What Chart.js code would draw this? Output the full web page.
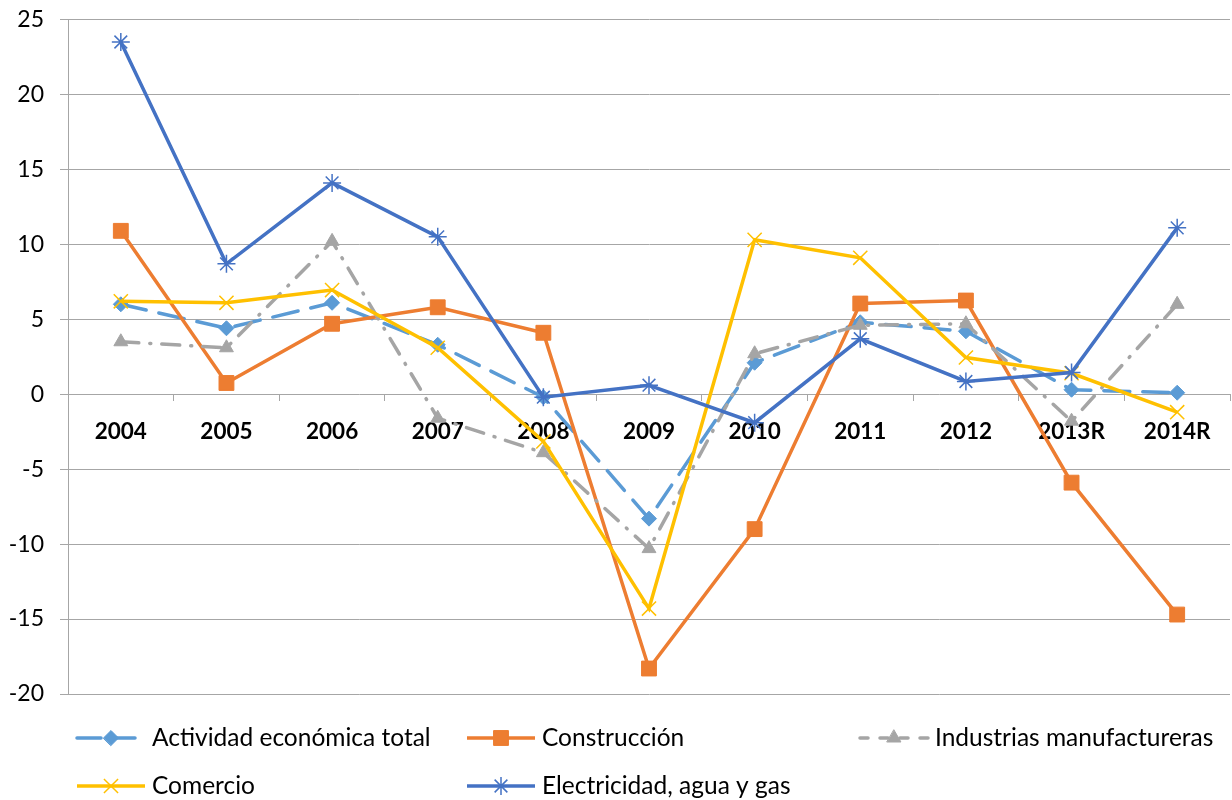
<!DOCTYPE html>
<html>
<head>
<meta charset="utf-8">
<script src="https://cdn.jsdelivr.net/npm/chart.js@4.4.0/dist/chart.umd.min.js"></script>
<style>
  html, body { margin: 0; padding: 0; background: #fff; }
  #wrap { width: 1232px; height: 800px; }
</style>
</head>
<body>
<div id="wrap"><canvas id="grafico" width="1232" height="800"></canvas></div>
<script>
const years = ['2004', '2005', '2006', '2007', '2008', '2009', '2010', '2011', '2012', '2013R', '2014R'];

const actividad = [6.0, 4.4, 6.1, 3.3, -0.2, -8.3, 2.1, 4.8, 4.2, 0.3, 0.1];
const construccion = [10.9, 0.75, 4.7, 5.8, 4.1, -18.3, -9.0, 6.05, 6.25, -5.9, -14.7];
const industrias = [3.5, 3.1, 10.2, -1.6, -3.9, -10.3, 2.7, 4.6, 4.7, -1.8, 6.0];
const comercio = [6.2, 6.1, 6.95, 3.1, -3.15, -14.3, 10.3, 9.1, 2.45, 1.4, -1.2];
const electricidad = [23.5, 8.7, 14.1, 10.5, -0.2, 0.6, -1.9, 3.7, 0.85, 1.45, 11.1];

const yTicks = [-20, -15, -10, -5, 0, 5, 10, 15, 20, 25];

const FONT = 'Lato, "Noto Sans", sans-serif';

function serie(label, data, color, style, radius, dash, legendDash, order) {
    const hollow = (style === 'crossRot' || style === 'star');
    return {
        label: label,
        data: data,
        borderColor: color,
        backgroundColor: color,
        borderWidth: 3.5,
        borderDash: dash,
        legendDash: legendDash,
        borderCapStyle: dash.length ? 'round' : 'butt',
        tension: 0,
        pointStyle: style,
        pointRadius: radius,
        pointHoverRadius: radius,
        pointBackgroundColor: color,
        pointBorderColor: color,
        pointBorderWidth: hollow ? 1.5 : 1,
        order: order
    };
}

const datasets = [
    serie('Actividad económica total', actividad, '#5B9BD5', 'rectRot', 7.5, [26, 13], [24, 10], 4),
    serie('Construcción', construccion, '#ED7D31', 'rect', 10.5, [], [], 3),
    serie('Industrias manufactureras', industrias, '#A5A5A5', 'triangle', 8, [18, 11, 1, 11], [8, 12], 2),
    serie('Comercio', comercio, '#FFC000', 'crossRot', 10, [], [], 1),
    serie('Electricidad, agua y gas', electricidad, '#4472C4', 'star', 9, [], [], 0)
];

// legend drawn below the plot, Excel style (line + marker)
const legendSlots = [
    { x: 75, y: 738 }, { x: 465, y: 738 }, { x: 858, y: 738 },
    { x: 75, y: 786 }, { x: 465, y: 786 }
];

const excelLegend = {
    id: 'excelLegend',
    afterDraw(chart) {
        const ctx = chart.ctx;
        chart.data.datasets.forEach(function (ds, i) {
            const s = legendSlots[i];
            ctx.save();
            ctx.strokeStyle = ds.borderColor;
            ctx.lineWidth = 3.5;
            ctx.lineCap = ds.borderCapStyle;
            ctx.setLineDash(ds.legendDash);
            ctx.beginPath();
            ctx.moveTo(s.x + 2, s.y);
            ctx.lineTo(s.x + 70, s.y);
            ctx.stroke();
            ctx.setLineDash([]);
            if (Chart.helpers && Chart.helpers.drawPoint) {
                ctx.fillStyle = ds.pointBackgroundColor;
                ctx.strokeStyle = ds.pointBorderColor;
                ctx.lineWidth = ds.pointBorderWidth;
                Chart.helpers.drawPoint(ctx, {
                    pointStyle: ds.pointStyle,
                    radius: ds.pointRadius,
                    rotation: 0,
                    borderWidth: ds.pointBorderWidth
                }, s.x + 36, s.y);
            }
            ctx.fillStyle = '#000';
            ctx.font = '24.5px ' + FONT;
            ctx.textBaseline = 'middle';
            ctx.textAlign = 'left';
            ctx.fillText(ds.label, s.x + 77, s.y);
            ctx.restore();
        });
    }
};

function noOverflow(scale) {
    scale.paddingTop = 0;
    scale.paddingBottom = 0;
    scale.paddingLeft = 0;
    scale.paddingRight = 0;
}

new Chart(document.getElementById('grafico'), {
    type: 'line',
    data: { labels: years, datasets: datasets },
    plugins: [excelLegend],
    options: {
        responsive: false,
        animation: false,
        layout: { autoPadding: false, padding: { top: 19.5, right: 2, bottom: 106, left: 0 } },
        plugins: {
            legend: { display: false },
            tooltip: { enabled: false }
        },
        scales: {
            x: {
                type: 'category',
                position: { y: 0 },
                offset: true,
                afterFit: noOverflow,
                grid: {
                    offset: true,
                    drawOnChartArea: false,
                    drawTicks: true,
                    tickLength: 7,
                    color: '#A6A6A6'
                },
                border: { display: false },
                ticks: {
                    color: '#000',
                    padding: 17,
                    maxRotation: 0,
                    autoSkip: false,
                    font: { family: FONT, size: 22.5, weight: 'bold' }
                }
            },
            y: {
                min: -20,
                max: 25,
                afterFit(scale) { scale.width = 68; noOverflow(scale); },
                afterBuildTicks(scale) { scale.ticks = yTicks.map(v => ({ value: v })); },
                grid: {
                    color: '#A6A6A6',
                    lineWidth: 1,
                    tickLength: 8
                },
                border: { display: true, color: '#A6A6A6', width: 1 },
                ticks: {
                    color: '#000',
                    padding: 16,
                    font: { family: FONT, size: 23 }
                }
            }
        }
    }
});
</script>
</body>
</html>
